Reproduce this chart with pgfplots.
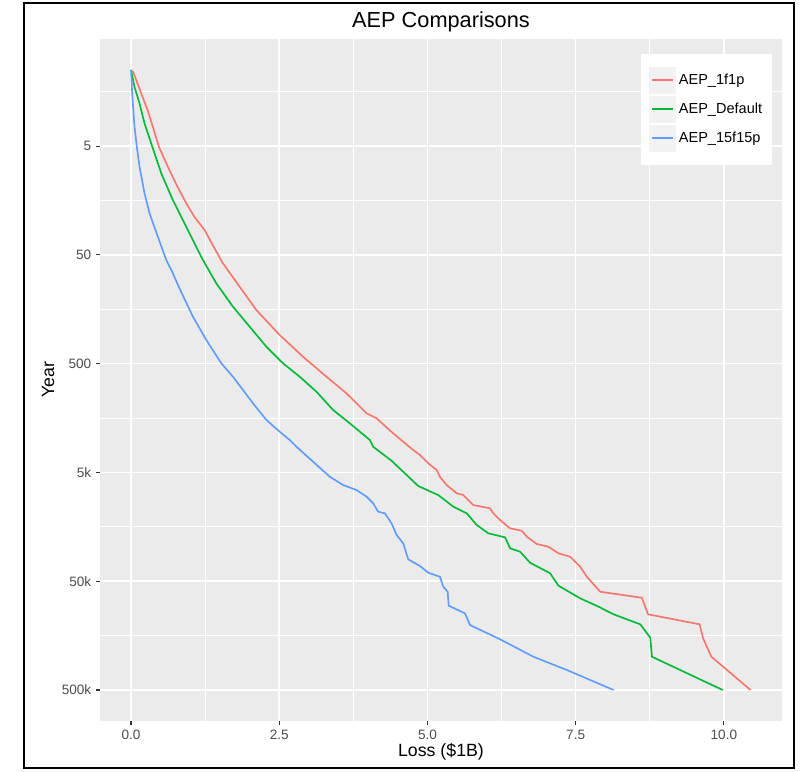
\documentclass[border=0pt]{standalone}
\usepackage{pgfplots}
\pgfplotsset{compat=1.18}
\usepackage{fontspec}
\setmainfont{Liberation Sans}
\definecolor{panelbg}{HTML}{EBEBEB}
\definecolor{keybg}{HTML}{F2F2F2}
\definecolor{cred}{HTML}{F8766D}
\definecolor{cgreen}{HTML}{00BA38}
\definecolor{cblue}{HTML}{619CFF}
\definecolor{ticklab}{HTML}{4D4D4D}
\definecolor{tickcol}{HTML}{333333}

\pgfplotsset{keyimg/.style={legend image code/.code={\fill[keybg] (0pt,-9.5pt) rectangle (19.5pt,9.5pt); \draw[draw=#1, line width=1.5pt] (2pt,0pt) -- (17.5pt,0pt);}}}

\pgfplotstableread{
x y
0 1
0.04 1.05
0.172 1.64
0.279 2.33
0.368 3.32
0.470 5.07
0.622 7.75
0.769 11.4
0.932 16.8
1.073 22.5
1.242 29.6
1.377 40.6
1.551 59.9
1.833 98.2
2.115 161
2.508 273
2.902 432
3.297 660
3.635 938
3.973 1432
4.142 1591
4.422 2186
4.760 3112
4.873 3459
5.014 4121
5.155 4753
5.211 5480
5.324 6531
5.493 7780
5.605 8069
5.774 9970
6.056 10690
6.111 11880
6.225 13690
6.394 16330
6.591 17180
6.676 19500
6.845 22750
7.041 24090
7.209 27710
7.407 29770
7.576 36800
7.689 45500
7.914 62500
8.618 70950
8.720 100700
9.591 124500
9.649 167400
9.789 247200
10.45 500000
}\redtab

\pgfplotstableread{
x y
0 1
0.059 1.43
0.144 2.03
0.228 3.09
0.341 4.72
0.510 8.91
0.706 15.7
0.932 27.6
1.213 55.8
1.439 91.4
1.720 150
2.002 229
2.284 350
2.564 497
2.846 660
3.128 906
3.409 1334
3.691 1770
4.029 2518
4.084 2902
4.395 3905
4.591 4929
4.845 6668
5.182 8069
5.436 10330
5.662 11880
5.831 15210
6.027 18150
6.309 19760
6.394 24930
6.563 26790
6.731 33810
7.069 42270
7.209 54950
7.576 71800
7.885 85700
8.139 100700
8.590 124500
8.758 165200
8.787 247200
9.980 500000
}\greentab

\pgfplotstableread{
x y
0 1
0.020 1.64
0.059 3.32
0.098 5.07
0.144 7.75
0.228 13.6
0.313 20.8
0.453 34.1
0.595 55.8
0.706 74
0.819 102
1.044 185
1.270 303
1.524 497
1.720 660
1.889 874
2.057 1158
2.284 1649
2.508 2113
2.677 2518
2.791 2902
3.071 3987
3.353 5480
3.578 6531
3.804 7261
3.973 8356
4.084 9616
4.169 11480
4.282 11880
4.395 14690
4.480 18790
4.591 22440
4.676 31480
4.873 36220
5.014 41780
5.211 45500
5.267 56230
5.341 62500
5.358 83950
5.633 98620
5.718 126500
6.225 171000
6.787 247200
7.351 327300
8.139 500000
}\bluetab

\begin{document}
\begin{tikzpicture}
\useasboundingbox (0,0) rectangle (602.25pt,-578.25pt);
\draw[line width=1.3pt] (18pt,-2.5pt) rectangle (595.5pt,-576pt);
\begin{axis}[
  at={(75pt,-29.25pt)}, anchor=north west,
  scale only axis, width=511.5pt, height=511.5pt,
  xmin=-0.523, xmax=10.98,
  ymode=log, y dir=reverse,
  ymin=0.519, ymax=963800,
  axis background/.style={fill=panelbg},
  axis line style={draw=none},
  xtick={0,2.5,5,7.5,10},
  xticklabels={0.0,2.5,5.0,7.5,10.0},
  minor xtick={1.25,3.75,6.25,8.75},
  ytick={5,50,500,5000,50000,500000},
  yticklabels={5,50,500,5k,50k,500k},
  minor ytick={1.581,15.81,158.1,1581,15811,158114},
  grid=both,
  major grid style={white, line width=1.2pt},
  minor grid style={white, line width=0.7pt},
  tick align=outside,
  tick pos=left,
  major tick length=3pt,
  minor tick length=0pt,
  tick style={tickcol, line width=0.8pt},
  ticklabel style={font=\fontsize{10.2}{12}\selectfont, text=ticklab},
  title={AEP Comparisons},
  title style={at={(axis description cs:0.5,1)}, anchor=base, yshift=2.6pt, font=\fontsize{16.3}{19}\selectfont},
  xlabel={Loss (\$1B)},
  ylabel={Year},
  xlabel style={at={(axis description cs:0.5,-0.0455)}, anchor=center, font=\fontsize{13.3}{16}\selectfont},
  ylabel style={at={(axis description cs:-0.0762,0.5)}, anchor=center, font=\fontsize{13.3}{16}\selectfont},
  legend cell align=left,
  legend style={at={(axis description cs:0.7928,0.978)}, anchor=north west, draw=none, fill=white,
    inner xsep=5.7pt, inner ysep=9.5pt, row sep=1.5pt,
    font=\fontsize{10.9}{13}\selectfont},
  every axis plot/.append style={line width=1.25pt, mark=none},
]
\addplot[cred, keyimg=cred] table[x=x,y=y] {\redtab};
\addlegendentry{AEP\_1f1p}
\addplot[cgreen, keyimg=cgreen] table[x=x,y=y] {\greentab};
\addlegendentry{AEP\_Default}
\addplot[cblue, keyimg=cblue] table[x=x,y=y] {\bluetab};
\addlegendentry{AEP\_15f15p}
\end{axis}
\end{tikzpicture}
\end{document}
